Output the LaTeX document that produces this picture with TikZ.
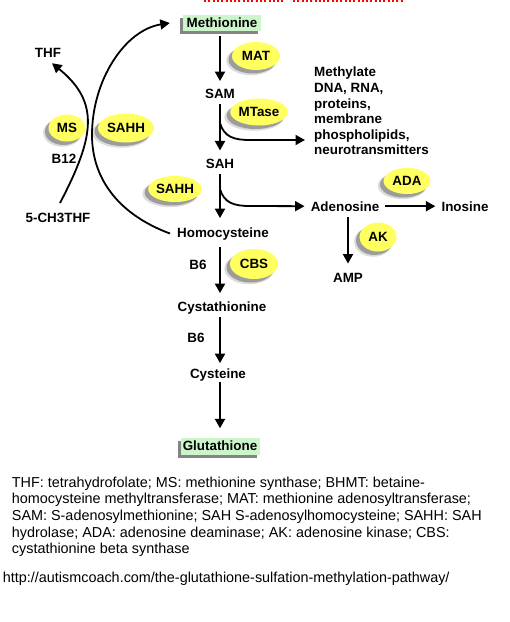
\documentclass[tikz,border=0pt]{standalone}
\usepackage{fontspec}
\setmainfont{Liberation Sans}
\usetikzlibrary{shapes.geometric,shadows,arrows.meta,calc}
\definecolor{enzY}{RGB}{255,255,95}
\definecolor{boxG}{RGB}{204,245,204}
\begin{document}
\begin{tikzpicture}[x=1pt,y=-1pt,
  lbl/.style={font=\fontsize{13.4}{15.6}\selectfont\bfseries, inner sep=0pt, anchor=base},
  enz/.style={ellipse, fill=enzY, inner sep=0pt, font=\fontsize{13.4}{15.6}\selectfont\bfseries,
    drop shadow={shadow xshift=-4.5pt, shadow yshift=-4.5pt, shadow scale=1.04, fill=black!40, opacity=0.35},
    drop shadow={shadow xshift=-3.5pt, shadow yshift=-3.5pt, fill=black!55, opacity=0.6}},
  gbox/.style={rectangle, fill=boxG, inner sep=0pt, font=\fontsize{13.4}{15.6}\selectfont\bfseries,
    drop shadow={shadow xshift=-3pt, shadow yshift=-3pt, fill=black!60, opacity=0.8}},
  arr/.style={line width=2pt, -{Triangle[length=9.5pt,width=10pt]}},
  carr/.style={line width=1.8pt, -{Triangle[length=9.5pt,width=10pt]}},
  capt/.style={font=\fontsize{14.4}{16.67}\selectfont, inner sep=0pt, align=left}]
\useasboundingbox (0,0) rectangle (510,622);

% red dotted line at top
\draw[red, line width=2pt, dash pattern=on 2pt off 2.3pt] (204,1) -- (283,1);
\draw[red, line width=2pt, dash pattern=on 2pt off 2.3pt] (293,1) -- (403,1);

% main column
\coordinate (col) at (220,0);
\node[gbox, minimum width=78pt, minimum height=16pt] (met) at (222,23) {Methionine};
\node[enz, minimum width=48pt, minimum height=28pt] (mat) at (256,56) {MAT};
\node[lbl] (sam) at (220,98) {SAM};
\node[enz, minimum width=53pt, minimum height=27pt] (mtase) at (259,112) {MTase};
\node[lbl] (sah) at (220,168) {SAH};
\node[enz, minimum width=52pt, minimum height=26pt] (sahh1) at (175,189) {SAHH};
\node[lbl] (hcy) at (223,237) {Homocysteine};
\node[lbl] (b6a) at (198,269) {B6};
\node[enz, minimum width=48pt, minimum height=30pt] (cbs) at (254,264) {CBS};
\node[lbl] (cysta) at (222,311) {Cystathionine};
\node[lbl] (b6b) at (196,342) {B6};
\node[lbl] (cys) at (218,378) {Cysteine};
\node[gbox, minimum width=79pt, minimum height=17pt] (glu) at (220,446) {Glutathione};

% right side
\node[lbl, align=left, anchor=north west] (methyl) at (314,67) {Methylate\\DNA, RNA,\\proteins,\\membrane\\phospholipids,\\neurotransmitters};
\node[lbl] (ado) at (345,211) {Adenosine};
\node[enz, minimum width=47pt, minimum height=26pt] (ada) at (407,181) {ADA};
\node[lbl] (ino) at (465,211) {Inosine};
\node[enz, minimum width=37pt, minimum height=29pt] (ak) at (378,237) {AK};
\node[lbl] (amp) at (348,282) {AMP};

% left side
\node[lbl] (thf) at (48,57) {THF};
\node[enz, minimum width=37pt, minimum height=27pt] (ms) at (67,128) {MS};
\node[lbl] (b12) at (64,163) {B12};
\node[enz, minimum width=56pt, minimum height=29pt] (sahh2) at (126,128) {SAHH};
\node[lbl] (ch3) at (58,222) {5-CH3THF};

% caption
\node[capt, anchor=north west] (caption) at (11.7,476.5) {THF: tetrahydrofolate; MS: methionine synthase; BHMT: betaine-\\homocysteine methyltransferase; MAT: methionine adenosyltransferase;\\SAM: S-adenosylmethionine; SAH S-adenosylhomocysteine; SAHH: SAH\\hydrolase; ADA: adenosine deaminase; AK: adenosine kinase; CBS:\\cystathionine beta synthase};
\node[capt, anchor=base west] (url) at (2.7,582) {http://autismcoach.com/the-glutathione-sulfation-methylation-pathway/};

% column arrows
\draw[arr, shorten <=5pt, shorten >=7.4pt] (col |- met.south) -- (col |- sam.north);
\draw[arr, shorten <=6pt, shorten >=8pt] (col |- sam.south) -- (col |- sah.north);
\draw[arr, shorten <=6pt, shorten >=9pt] (col |- sah.south) -- (col |- hcy.north);
\draw[arr, shorten <=7pt, shorten >=8pt] (col |- hcy.south) -- (col |- cysta.north);
\draw[arr, shorten <=3pt, shorten >=5pt] (col |- cysta.south) -- (col |- cys.north);
\draw[arr, shorten <=1pt, shorten >=9pt] (col |- cys.south) -- (col |- glu.north);

% branches
\coordinate (br1) at (220,123);
\coordinate (mtgt) at (305,140);
\draw[carr] (br1) .. controls (224,137) and (234,140) .. (250,140) -- (mtgt);
\coordinate (br2) at (220,189);
\draw[carr, shorten >=6pt] (br2) .. controls (224,203) and (234,206) .. (250,206) -- (ado.west);
\draw[arr, shorten <=6pt, shorten >=6pt] (ado.east) -- (ino.west);
\draw[arr, shorten <=6pt, shorten >=9pt] (amp |- ado.south) -- (amp.north);

% left curves
\draw[carr] ([xshift=-7pt]hcy.west) .. controls (120,215) and (92,180) .. (92,135)
  .. controls (92,80) and (125,30) .. ([xshift=-13pt]met.west);
\draw[carr] ([xshift=2pt,yshift=9.4pt]ch3.north) .. controls (94.5,136.9) and (100.2,102.4) .. ([xshift=4pt,yshift=-6pt]thf.south);
\end{tikzpicture}
\end{document}
